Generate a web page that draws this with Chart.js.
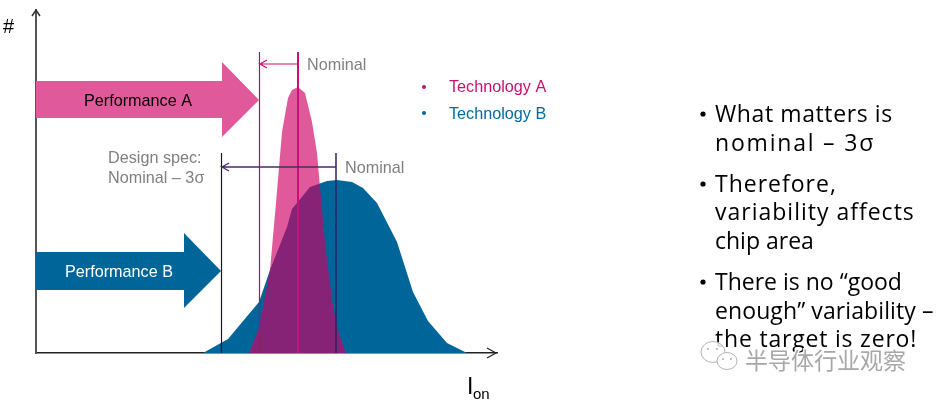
<!DOCTYPE html>
<html>
<head>
<meta charset="utf-8">
<style>html,body{margin:0;padding:0;background:#fff}canvas{display:block;filter:blur(0.3px)}</style>
<script src="https://cdn.jsdelivr.net/npm/chart.js@4"></script>
</head>
<body>
<canvas id="c" width="936" height="400"></canvas>
<script>
// Values on the Ion (x) and # (y) axes
const techA_x = [213,223,234,240,246,252,256,262,269,276,281,284,289,296,301,310];
const techA_y = [0,25,83,150,221,255,263,266,260,231,200,166,110,53,25,0];
const techB_x = [167,192,223,234,251,256,274,291,301,316,327,341,361,377,392,411,431];
const techB_y = [0,14,51,83,126,144,166,172,173,171,165,150,111,61,32,10,0];
const perfA_x = [0,186,186,223,186,186,0];
const perfA_y = [272,272,291,253,216,235,235];
const perfB_x = [0,148,148,185,148,148,0];
const perfB_y = [101,101,120,82,45,63,63];
const specA_x = [223.5,223.5]; const specA_y = [0,301];
const nomA_x  = [262,262]; const nomA_y  = [0,301];
const specB_x = [185.5,185.5]; const specB_y = [0,200];
const nomB_x  = [300,300]; const nomB_y  = [0,200];
const gapA_x = [231,224,231,224,262]; const gapA_y = [293,289,285,289,289];
const gapB_x = [193,186,193,186,300]; const gapB_y = [190,186,182,186,186];
const yHead_x = [-4,0,4]; const yHead_y = [337,343,337];
const xHead_x = [451,460,451]; const xHead_y = [5,0,-5];
const legend_x = [388]; const legendA_y = [266]; const legendB_y = [240];

const zip = (xs, ys) => xs.map((x, i) => ({x, y: ys[i]}));
const line = (xs, ys, color, w) => ({data: zip(xs, ys), borderColor: color, borderWidth: w, fill: false, pointRadius: 0, clip: false, showLine: true});
const shape = (xs, ys, color, fill) => ({data: zip(xs, ys), borderColor: 'transparent', borderWidth: 0, backgroundColor: color, fill, pointRadius: 0, clip: false, showLine: true});
const dot = (xs, ys, color) => ({data: zip(xs, ys), showLine: false, pointRadius: 2, pointBackgroundColor: color, pointBorderWidth: 0, clip: false});

const PINK = '#E05A9B', BLUE = '#006699';
const leftTexts = [
  ['#', 3, 33, '20px "Liberation Sans"', '#000'],
  ['Performance A', 84, 106, '16.2px "Liberation Sans"', '#000'],
  ['Performance B', 65, 277, '16.2px "Liberation Sans"', '#fff'],
  ['Nominal', 307, 70, '16.2px "Liberation Sans"', '#808080'],
  ['Nominal', 345, 173, '16.2px "Liberation Sans"', '#808080'],
  ['Design spec:', 108, 163, '16.2px "Liberation Sans"', '#808080'],
  ['Nominal – 3σ', 108, 183, '16.2px "Liberation Sans"', '#808080'],
  ['Technology A', 449, 92, '16.2px "Liberation Sans"', '#C8106E'],
  ['Technology B', 449, 119, '16.2px "Liberation Sans"', '#006B9F'],
  ['I', 467, 394, '23px "Liberation Sans"', '#000'],
  ['on', 473, 399, '15px "Liberation Sans"', '#000'],
];
const bulletFont = '23px "Open Sans"';
const bullets = [
  ['What matters is', 715, 122, true, 0.6],
  ['nominal – 3σ', 715, 151, false, 1.8],
  ['Therefore,', 715, 192, true, 1],
  ['variability affects', 715, 220, false, 1],
  ['chip area', 715, 249, false, 0],
  ['There is no “good', 715, 290, true, 0],
  ['enough” variability –', 715, 319, false, 0.1],
  ['the target is zero!', 715, 347, false, 0.8],
];

const annotations = {
  id: 'annotations',
  afterDraw(chart) {
    const ctx = chart.ctx;
    ctx.save();
    ctx.textBaseline = 'alphabetic';
    for (const [t, x, y, f, c] of leftTexts) { ctx.font = f; ctx.fillStyle = c; ctx.fillText(t, x, y); }
    ctx.font = bulletFont; ctx.fillStyle = '#000';
    for (const [t, x, y, b, ls] of bullets) {
      ctx.letterSpacing = ls + 'px';
      ctx.fillText(t, x, y);
      if (b) { ctx.beginPath(); ctx.arc(703, y - 8, 2.6, 0, 7); ctx.fill(); }
    }
    ctx.letterSpacing = '0px';
    // watermark
    ctx.font = '23px "Noto Sans CJK SC"';
    ctx.lineWidth = 3; ctx.strokeStyle = 'rgba(255,255,255,.9)'; ctx.fillStyle = '#a8a8a8';
    ctx.strokeText('半导体行业观察', 745, 369);
    ctx.fillText('半导体行业观察', 745, 369);
    ctx.strokeStyle = '#b4b4b4'; ctx.lineWidth = 1; ctx.fillStyle = 'rgba(255,255,255,.85)';
    ctx.beginPath(); ctx.ellipse(713, 352, 12, 10.5, 0, 0, 7); ctx.fill(); ctx.stroke();
    ctx.beginPath(); ctx.ellipse(727, 361, 10, 8.5, 0, 0, 7); ctx.fill(); ctx.stroke();
    ctx.fillStyle = '#b4b4b4';
    for (const [x, y] of [[708, 349], [717, 349], [723, 359], [731, 359]]) { ctx.beginPath(); ctx.arc(x, y, 1.1, 0, 7); ctx.fill(); }
    ctx.restore();
  }
};

new Chart(document.getElementById('c'), {
  type: 'scatter',
  data: {datasets: [
    line(yHead_x, yHead_y, '#333', 1.5),
    line(xHead_x, xHead_y, '#222', 1.2),
    dot(legend_x, legendA_y, '#C8106E'),
    dot(legend_x, legendB_y, '#006B9F'),
    line(gapB_x, gapB_y, '#4A2A6B', 1.3),
    line(gapA_x, gapA_y, '#D0106E', 1.2),
    line(nomA_x, nomA_y, '#C9107A', 2),
    line(specA_x, specA_y, '#B0105F', 1.2),
    line(nomB_x, nomB_y, 'rgba(40,35,100,.75)', 2),
    line(specB_x, specB_y, '#1A1050', 1.2),
    shape(techA_x, techA_y, 'rgba(207,0,100,.65)', 'start'),
    shape(techB_x, techB_y, BLUE, 'start'),
    shape(perfA_x, perfA_y, PINK, 'shape'),
    shape(perfB_x, perfB_y, BLUE, 'shape'),
  ]},
  options: {
    responsive: false,
    animation: false,
    devicePixelRatio: 1,
    layout: {padding: {left: 36, right: 439, top: 10, bottom: 47}, autoPadding: false},
    plugins: {legend: {display: false}, tooltip: {enabled: false}, title: {display: false}},
    scales: {
      x: {type: 'linear', min: 0, max: 461, ticks: {display: false}, grid: {display: false, drawTicks: false}, border: {display: true, color: '#222', width: 1.5}},
      y: {type: 'linear', min: 0, max: 343, ticks: {display: false}, grid: {display: false, drawTicks: false}, border: {display: true, color: '#555', width: 2}},
    }
  },
  plugins: [annotations]
});
</script>
</body>
</html>
